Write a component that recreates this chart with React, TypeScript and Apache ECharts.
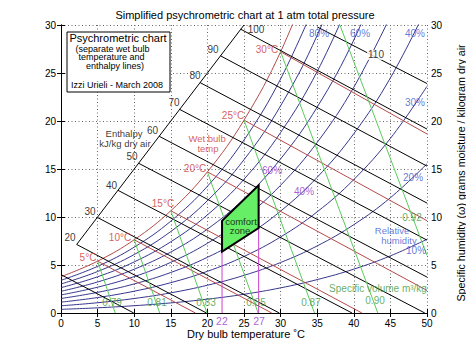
import React, { useEffect, useRef } from 'react';
import * as echarts from 'echarts';

const FONT = '"Liberation Sans", Arial, Helvetica, sans-serif';

// Dry bulb temperature grid for the relative humidity curves (deg C)
const T_GRID = [0, 5, 10, 15, 20, 25, 30, 35, 40, 45, 50];

// Specific humidity (g/kg) along each relative humidity curve at T_GRID
const rh10 = [0.38, 0.54, 0.76, 1.05, 1.44, 1.95, 2.62, 3.48, 4.57, 5.95, 7.68];
const rh20 = [0.75, 1.07, 1.51, 2.1, 2.89, 3.92, 5.26, 6.99, 9.2, 12.01, 15.54];
const rh30 = [1.13, 1.61, 2.27, 3.16, 4.34, 5.89, 7.92, 10.54, 13.9, 18.19, 23.61];
const rh40 = [1.51, 2.15, 3.03, 4.22, 5.8, 7.88, 10.61, 14.14, 18.68, 24.49, 31.88];
const rh50 = [1.88, 2.69, 3.79, 5.28, 7.26, 9.88, 13.31, 17.77, 23.52, 30.91];
const rh60 = [2.26, 3.23, 4.56, 6.35, 8.74, 11.9, 16.05, 21.45, 28.44, 37.47];
const rh70 = [2.64, 3.77, 5.32, 7.42, 10.22, 13.93, 18.8, 25.16, 33.44];
const rh80 = [3.02, 4.32, 6.09, 8.49, 11.7, 15.97, 21.58, 28.93, 38.51];
const rh90 = [3.4, 4.86, 6.86, 9.57, 13.2, 18.02, 24.38, 32.73];
const saturation = [3.78, 5.4, 7.63, 10.65, 14.7, 20.09, 27.21, 36.58];

// Enthalpy lines (kJ/kg dry air): [start, end] in (T, w)
const enthalpyLines = [
  [[0, 4.0], [9.94, 0]],
  [[2.14, 7.14], [19.88, 0]],
  [[4.96, 9.96], [29.82, 0]],
  [[7.78, 12.78], [39.76, 0]],
  [[10.6, 15.6], [49.7, 0]],
  [[13.41, 18.41], [50, 3.74]],
  [[16.21, 21.21], [50, 7.59]],
  [[19.0, 24.0], [50, 11.45]],
  [[21.79, 26.79], [50, 15.3]],
  [[24.56, 29.56], [50, 19.16]],
  [[35.0, 29.8], [50, 23.9]],
];
const enthalpyScale = [[2.14, 7.14], [25.0, 30]];

// Wet bulb lines 5..30 deg C
const wetBulbLines = [
  [[5, 5.4], [18.36, 0]],
  [[10, 7.63], [28.79, 0]],
  [[15, 10.65], [41.11, 0]],
  [[20, 14.7], [50, 2.35]],
  [[25, 20.09], [50, 9.61]],
  [[30, 27.21], [50, 18.65]],
];

// Specific volume lines (m3/kg)
const volumeLines = [
  [[5, 5.4], [7.41, 0]],
  [[10, 7.63], [13.49, 0]],
  [[15, 10.65], [19.94, 0]],
  [[20, 14.7], [26.93, 0]],
  [[25, 20.09], [34.63, 0]],
  [[30, 27.21], [43.28, 0]],
  [[38.1, 30], [50, 6.0]],
];

// Comfort zone (22-27 deg C, 40-60 % RH)
const comfortZone = [[22, 6.4], [22, 9.6], [27, 13.3], [27, 8.85]];
const comfortLeft = [[22, 0], [22, 6.4]];
const comfortRight = [[27, 0], [27, 8.85]];

const xTicks = [0, 50, 5];
const yTicks = [0, 30, 5];

// Annotation anchors in data coordinates: [text, T, w]
const enthalpyText: [string, number, number][] = [
  ['20', 1.23, 7.84], ['30', 3.96, 10.54], ['40', 6.9, 13.25], ['50', 9.7, 16.26],
  ['60', 12.5, 18.97], ['70', 15.44, 21.88], ['80', 18.31, 24.69], ['90', 20.77, 27.5],
  ['100', 26.64, 29.48],
];
const enthalpyTitle: [string, number, number][] = [['Enthalpy', 8.61, 18.72], ['kJ/kg dry air', 8.74, 17.66]];
const enthalpy110Text: [string, number, number][] = [['110', 43.03, 26.88]];
const wetBulbText: [string, number, number][] = [
  ['5°C', 3.69, 5.75], ['10°C', 8.06, 7.89], ['15°C', 13.93, 11.37], ['20°C', 18.31, 15.01],
  ['25°C', 23.5, 20.53], ['30°C', 28.14, 27.5],
];
const wetBulbTitle: [string, number, number][] = [['Wet bulb', 19.95, 18.2], ['temp', 20.08, 17.14]];
const rhText: [string, number, number][] = [
  ['80%', 35.25, 29.07], ['60%', 40.85, 29.07], ['40%', 48.36, 29.07], ['30%', 48.36, 21.88],
  ['20%', 48.09, 14.08], ['10%', 48.5, 6.48],
];
const rhTitle: [string, number, number][] = [['Relative', 45.22, 8.62], ['humidity', 46.17, 7.57]];
const comfortRhText: [string, number, number][] = [['60%', 28.83, 14.8], ['40%', 33.2, 12.62]];
const comfortText: [string, number, number][] = [['comfort', 24.59, 9.58], ['zone', 24.45, 8.55]];
const volumeText: [string, number, number][] = [
  ['0.79', 6.97, 1.07], ['0.81', 13.11, 1.07], ['0.83', 19.81, 1.07], ['0.85', 26.64, 1.07],
  ['0.87', 34.15, 1.07], ['0.90', 42.9, 1.28], ['0.92', 47.95, 9.92], ['Specific volume m³/kg', 43.31, 2.53],
];
const comfortTempText: [string, number, number][] = [['22', 21.99, -0.85], ['27', 27.05, -0.85]];

const C = {
  rh: '#36368e',
  rhText: '#3a58cc',
  red: '#b54a4a',
  redText: '#cc3333',
  green: '#5acc5a',
  greenText: '#3d9a3d',
  purple: '#9933cc',
  magenta: '#cc44cc',
  fill: '#66ee66',
};

function line(data: number[][], color: string, smooth: boolean | number = false, z = 2, width = 1) {
  return {
    type: 'line', data, symbol: 'none', silent: true, smooth, clip: true, z,
    lineStyle: { color, width }, emphasis: { disabled: true },
  };
}

function labels(items: [string, number, number][], color: string, fontSize = 10, extra: any = {}) {
  return {
    type: 'scatter', silent: true, clip: false, z: 10, symbolSize: 0,
    data: items.map(([name, x, y]) => ({ name, value: [x, y] })),
    label: { show: true, position: 'inside', formatter: '{b}', color, fontSize, fontFamily: FONT, lineHeight: fontSize, ...extra },
    emphasis: { disabled: true },
  };
}

const zip = (ys: number[]) => ys.map((y, i) => [T_GRID[i], y]);

export default function App() {
  const ref = useRef<HTMLDivElement>(null);
  useEffect(() => {
    if (!ref.current) return;
    const chart = echarts.init(ref.current, undefined, { renderer: 'svg' });
    const rhCurves = [rh10, rh20, rh30, rh40, rh50, rh60, rh70, rh80, rh90];
    const series: any[] = [];
    rhCurves.forEach((c) => series.push(line(zip(c), C.rh, 0.4, 2)));
    series.push(line(zip(saturation), C.red, 0.4, 3));
    enthalpyLines.forEach((l) => series.push(line(l, '#000', false, 3)));
    series.push(line(enthalpyScale, '#000', false, 3));
    wetBulbLines.forEach((l) => series.push(line(l, C.red, false, 3)));
    volumeLines.forEach((l) => series.push(line(l, C.green, false, 3)));
    series.push(line(comfortLeft, C.magenta, false, 5));
    series.push(line(comfortRight, C.magenta, false, 5));
    series.push({
      type: 'custom', silent: true, z: 6, clip: true,
      data: [[0, 0]],
      renderItem: (params: any, api: any) => {
        if (params.dataIndex !== 0) return null;
        const pts = comfortZone.map((p) => api.coord(p));
        return { type: 'polygon', shape: { points: pts }, style: { fill: C.fill, stroke: '#000', lineWidth: 2 } };
      },
    });
    series.push(labels(enthalpyText, '#000'));
    series.push(labels(enthalpyTitle, '#000', 9.5));
    series.push(labels(enthalpy110Text, '#000', 10, { backgroundColor: '#fff', padding: [0, 1] }));
    series.push(labels(wetBulbText, C.redText));
    series.push(labels(wetBulbTitle, C.redText, 9.5));
    series.push(labels(rhText, C.rhText));
    series.push(labels(rhTitle, C.rhText, 9.5));
    series.push(labels(comfortRhText, C.purple));
    series.push(labels(comfortText, '#000', 9.5));
    series.push(labels(volumeText, C.greenText));
    series.push(labels(comfortTempText, C.purple, 10.5));

    const axisLine = { show: true, lineStyle: { color: '#000', width: 1 } };
    const splitLine = { show: true, lineStyle: { color: '#666', type: [1, 2.5], width: 1 } };
    const tick = { show: true, inside: true, length: 4, lineStyle: { color: '#000' } };
    const lab = { color: '#000', fontSize: 10, fontFamily: FONT };
    const txt = (fs: number) => ({ fill: '#000', font: `${fs}px ${FONT}`, textAlign: 'center', textVerticalAlign: 'middle', align: 'center', verticalAlign: 'middle' });

    chart.setOption({
      animation: false,
      backgroundColor: '#fff',
      grid: { left: 61, right: 47, top: 25, bottom: 42, containLabel: false },
      xAxis: [
        { type: 'value', min: xTicks[0], max: xTicks[1], interval: xTicks[2], position: 'bottom',
          axisLine, axisTick: tick, splitLine, axisLabel: { ...lab, margin: 5 } },
        { type: 'value', min: xTicks[0], max: xTicks[1], interval: xTicks[2], position: 'top',
          axisLine, axisTick: tick, splitLine: { show: false }, axisLabel: { show: false } },
      ],
      yAxis: [
        { type: 'value', min: yTicks[0], max: yTicks[1], interval: yTicks[2], position: 'left',
          axisLine, axisTick: tick, splitLine, axisLabel: { ...lab, margin: 5 } },
        { type: 'value', min: yTicks[0], max: yTicks[1], interval: yTicks[2], position: 'right',
          axisLine, axisTick: tick, splitLine: { show: false }, axisLabel: { ...lab, margin: 4 } },
      ],
      series,
      graphic: [
        { type: 'text', x: 245, y: 15, silent: true,
          style: { text: 'Simplified psychrometric chart at 1 atm total pressure', ...txt(11) } },
        { type: 'text', x: 246, y: 334, silent: true,
          style: { text: 'Dry bulb temperature ˚C', ...txt(11) } },
        { type: 'text', x: 461, y: 173, rotation: Math.PI / 2, silent: true,
          style: { text: 'Specific humidity (ω) grams moisture / kilogram dry air', ...txt(10.7) } },
        { type: 'rect', shape: { x: 67, y: 32, width: 103, height: 60 }, z: 20, silent: true,
          style: { fill: '#fff', stroke: '#000', lineWidth: 1 } },
        ...[
          ['Psychrometric chart', 118, 38, 11],
          ['(separate wet bulb', 112.5, 48.5, 9],
          ['temperature and', 111.5, 57, 9],
          ['enthalpy lines)', 115, 66, 9],
          ['Izzi Urieli - March 2008', 117, 85, 9],
        ].map(([t, x, y, fs]) => ({
          type: 'text', x, y, z: 21, silent: true,
          style: { text: t, ...txt(fs as number) },
        })),
      ],
    });
    return () => chart.dispose();
  }, []);
  return <div ref={ref} style={{ width: 474, height: 355, margin: -8 }} />;
}
